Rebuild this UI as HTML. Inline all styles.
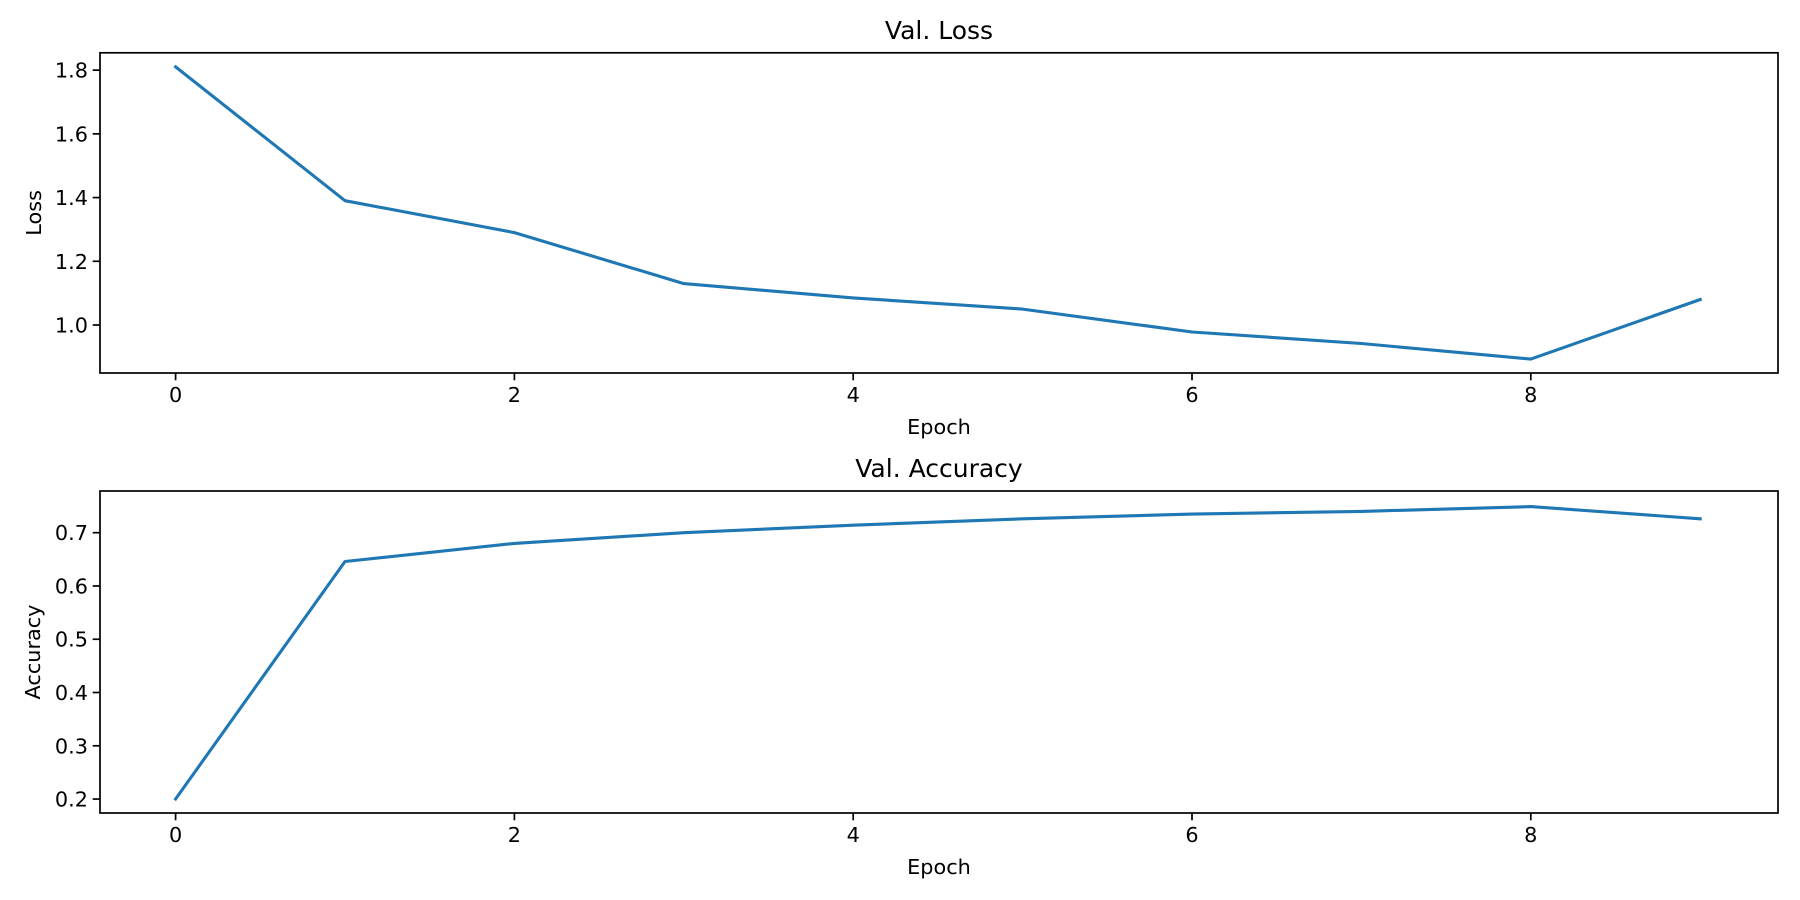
<!DOCTYPE html>
<html><head><meta charset="utf-8">
<style>
html,body{margin:0;padding:0;background:#fff;}
svg{display:block;font-family:"DejaVu Sans","Liberation Sans",sans-serif;}
</style></head>
<body>
<svg id="chart" width="1800" height="900" viewBox="0 0 1800 900" xmlns="http://www.w3.org/2000/svg"></svg>
<script>
const epochs = [0,1,2,3,4,5,6,7,8,9];
const lossValues = [1.81,1.39,1.29,1.13,1.085,1.05,0.978,0.942,0.893,1.08];
const accValues = [0.2,0.646,0.68,0.7,0.714,0.726,0.735,0.74,0.749,0.726];
const xTicks = [0,2,4,6,8];
const lossTicks = [1.0,1.2,1.4,1.6,1.8];
const accTicks = [0.2,0.3,0.4,0.5,0.6,0.7];

const NS = "http://www.w3.org/2000/svg";
const svg = document.getElementById("chart");
function mk(tag, attrs, parent){
  const e = document.createElementNS(NS, tag);
  for (const k in attrs) e.setAttribute(k, attrs[k]);
  (parent||svg).appendChild(e);
  return e;
}
const L = 100, R = 1778;
const xScale = v => 175.6 + v * 169.4;

function panel(opts){
  const g = mk("g", {});
  
  
  const yScale = v => opts.y0px - (v - opts.y0) * opts.ppu;
  // title
  const t = mk("text", {x:(L+R)/2, y:opts.top-14, "text-anchor":"middle", "font-size":25, fill:"#000"}, g);
  t.textContent = opts.title;
  
  
  // line
  const pts = epochs.map((e,i)=> xScale(e).toFixed(1)+","+yScale(opts.vals[i]).toFixed(1)).join(" ");
  const pl = mk("polyline", {points:pts, fill:"none", stroke:"#1f77b4", "stroke-width":3.1, "stroke-linejoin":"round", "stroke-linecap":"square"}, g);
  
  
  // frame
  const fr = mk("rect", {x:L, y:opts.top, width:R-L, height:opts.bottom-opts.top, fill:"none", stroke:"#000", "stroke-width":1.7}, g);
  
  
  // x ticks
  xTicks.forEach(v=>{
    const x = xScale(v);
    mk("line", {x1:x, x2:x, y1:opts.bottom, y2:opts.bottom+7.3, stroke:"#000", "stroke-width":1.7}, g);
    const tl = mk("text", {x:x, y:opts.bottom+29, "text-anchor":"middle", "font-size":20.8}, g);
    tl.textContent = v;
    
    
  });
  // y ticks
  opts.ticks.forEach(v=>{
    const y = yScale(v);
    mk("line", {x1:L-7.3, x2:L, y1:y, y2:y, stroke:"#000", "stroke-width":1.7}, g);
    const tl = mk("text", {x:L-12, y:y+7.5, "text-anchor":"end", "font-size":20.8}, g);
    tl.textContent = v.toFixed(1);
    
    
  });
  const xl = mk("text", {x:(L+R)/2, y:opts.bottom+61, "text-anchor":"middle", "font-size":20.8}, g);
  xl.textContent = "Epoch";
  
  
  const cy = (opts.top+opts.bottom)/2;
  const yl = mk("text", {x:0, y:0, "text-anchor":"middle", "font-size":20.8, transform:`translate(${opts.ylabelX},${cy}) rotate(-90)`}, g);
  yl.textContent = opts.ylabel;
  
  
}
panel({name:"loss-panel", title:"Val. Loss", ylabel:"Loss", vals:lossValues, ticks:lossTicks,
  top:52.8, bottom:373, y0:1.0, y0px:325, ppu:318.6, ylabelX:41});
panel({name:"accuracy-panel", title:"Val. Accuracy", ylabel:"Accuracy", vals:accValues, ticks:accTicks,
  top:491, bottom:813, y0:0.7, y0px:532.7, ppu:532.7, ylabelX:40});
</script>
</body></html>
